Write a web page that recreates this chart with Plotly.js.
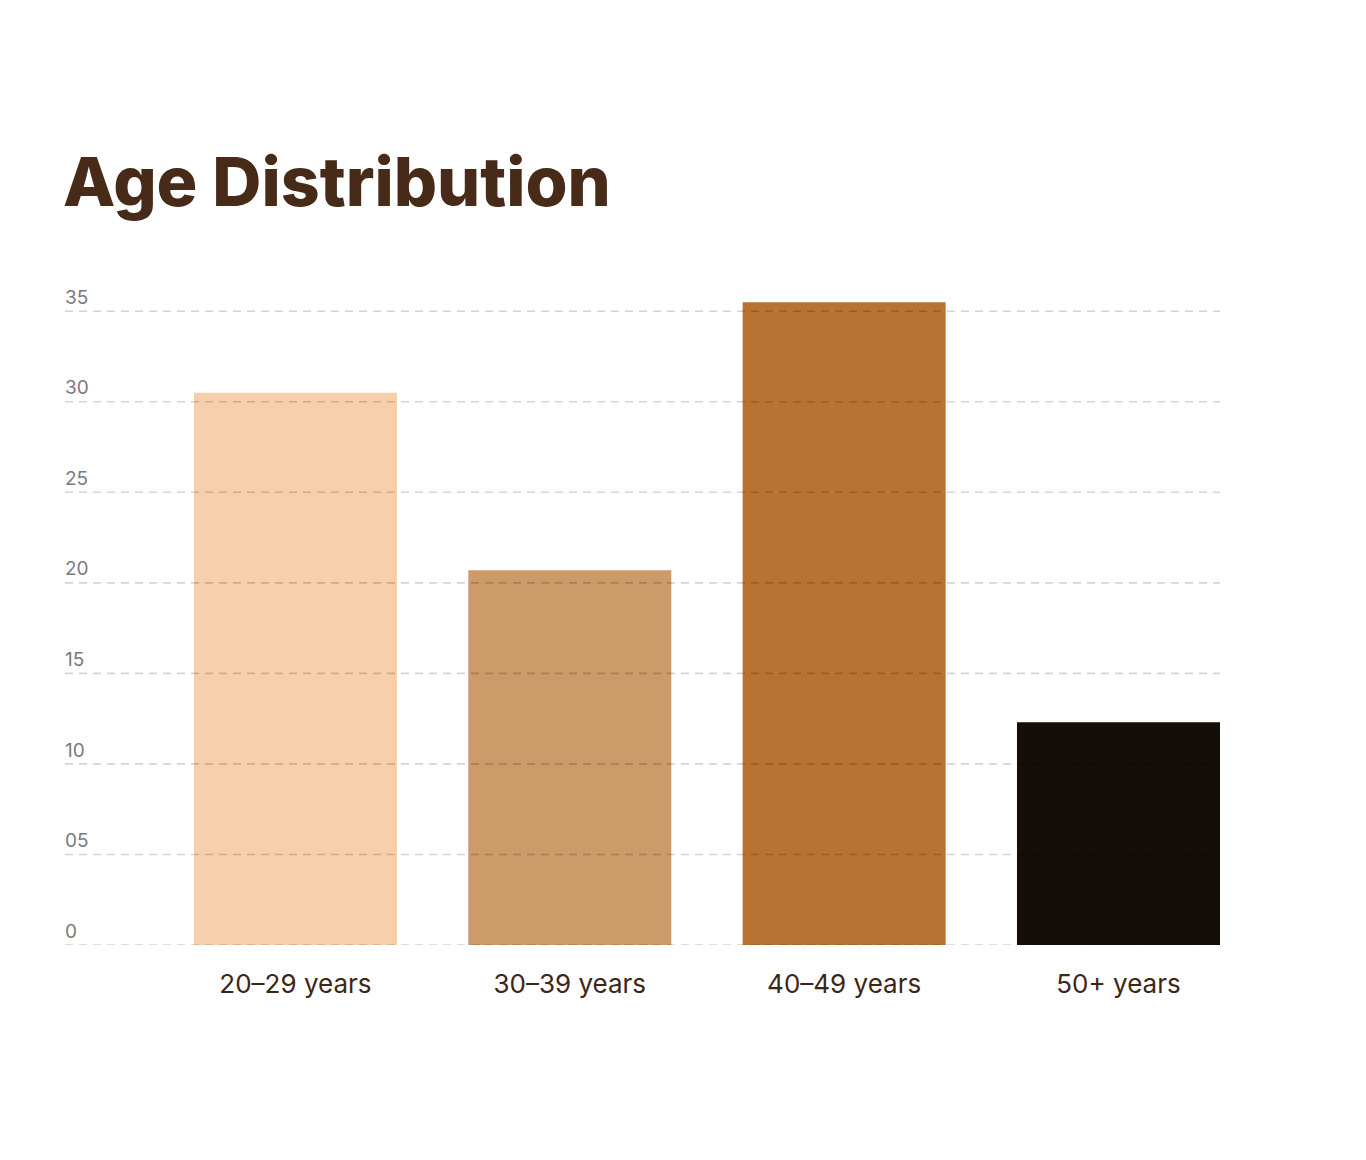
<!DOCTYPE html>
<html>
<head>
<meta charset="utf-8">
<script src="https://cdn.plot.ly/plotly-3.0.1.min.js"></script>
<style>
    html, body { margin: 0; padding: 0; background: #ffffff; }
    #chart { width: 1366px; height: 1160px; }
</style>
</head>
<body>
<div id="chart"></div>
<script>
// values (percent of respondents)
let ageGroups = ['20–29 years', '30–39 years', '40–49 years', '50+ years']
let shares = [30.5, 20.7, 35.5, 12.3]

let tickValues = [0, 5, 10, 15, 20, 25, 30, 35]
let tickLabels = ['0', '05', '10', '15', '20', '25', '30', '35']

let barColors = ['#f7cfab', '#cd9a6a', '#b87332', '#140d08']

// grid lines sit on top of the bars, so they are drawn as shapes
let gridLines = tickValues.map(v => ({
    type: 'line',
    xref: 'paper', x0: 0, x1: 1,
    yref: 'y', y0: v, y1: v,
    layer: 'above',
    line: { color: 'rgba(0,0,0,0.17)', width: 1.6, dash: '8px,6px' }
}))

let data = [{
    type: 'bar',
    x: ageGroups,
    y: shares,
    width: 0.74,
    marker: { color: barColors, line: { width: 0 } },
    hoverinfo: 'x+y'
}]

let layout = {
    width: 1366,
    height: 1160,
    margin: { l: 65, r: 146, t: 275, b: 215 },
    paper_bgcolor: '#ffffff',
    plot_bgcolor: '#ffffff',
    showlegend: false,
    title: {
        text: 'Age Distribution',
        font: { family: 'Inter, sans-serif', size: 68, weight: 800, color: '#482a19' },
        xref: 'container', x: 63 / 1366, xanchor: 'left',
        yref: 'container', y: 1 - 182 / 1160, yanchor: 'middle'
    },
    xaxis: {
        type: 'category',
        range: [-0.84, 3.37],
        showgrid: false,
        zeroline: false,
        showline: false,
        ticks: '',
        ticklabelstandoff: 21,
        tickfont: { family: 'Inter, sans-serif', size: 26, color: '#3d2616' }
    },
    yaxis: {
        range: [0, 37],
        tickvals: tickValues,
        ticktext: tickLabels,
        showgrid: false,
        zeroline: false,
        showline: false,
        ticks: '',
        ticklabelposition: 'inside',
        ticklabelshift: -14,
        ticklabelstandoff: -3,
        tickfont: { family: 'Inter, sans-serif', size: 19, color: '#7a7a80' }
    },
    shapes: gridLines
}

Plotly.newPlot('chart', data, layout, { displayModeBar: false, staticPlot: true })
</script>
</body>
</html>
